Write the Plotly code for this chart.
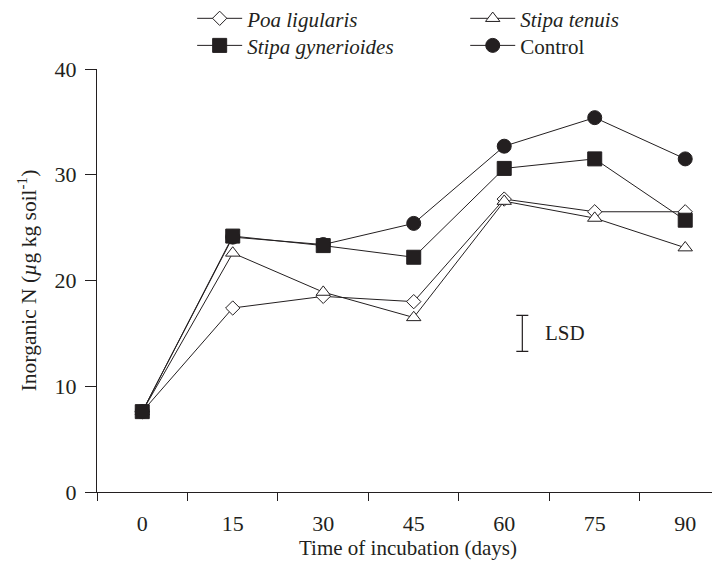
import plotly.graph_objects as go

# ---- data ----
days = [0, 15, 30, 45, 60, 75, 90]
poa_ligularis = [7.6, 17.4, 18.5, 18.0, 27.7, 26.5, 26.5]
stipa_tenuis = [7.6, 22.6, 18.9, 16.5, 27.5, 25.9, 23.1]
stipa_gynerioides = [7.6, 24.2, 23.3, 22.2, 30.6, 31.5, 25.7]
control = [7.6, 24.1, 23.4, 25.4, 32.7, 35.4, 31.5]

x_tick_labels = ["0", "15", "30", "45", "60", "75", "90"]
x_minor_ticks = [-7.5, 7.5, 22.5, 37.5, 52.5, 67.5, 82.5]
y_ticks = [0, 10, 20, 30, 40]

lsd_day = [63]
lsd_centre = [15.0]
lsd_half = [1.7]

INK = "#231f20"
FONT = "Liberation Serif"
SIZES = {"circle": 14, "square": 14, "diamond": 11, "triangle-up": 12.5}

fig = go.Figure()

def add_series(name, y, symbol, fill, legend):
    fig.add_trace(go.Scatter(
        x=days, y=y, name=name, mode="lines+markers",
        line=dict(color=INK, width=1),
        marker=dict(symbol=symbol, size=SIZES[symbol],
                    color=fill, line=dict(color=INK, width=1)),
        legend=legend,
    ))

add_series("Control", control, "circle", INK, "legend4")
add_series("<i>Poa ligularis</i>", poa_ligularis, "diamond", "white", "legend")
add_series("<i>Stipa tenuis</i>", stipa_tenuis, "triangle-up", "white", "legend2")
add_series("<i>Stipa gynerioides</i>", stipa_gynerioides, "square", INK, "legend3")

# LSD bar
fig.add_trace(go.Scatter(
    x=lsd_day, y=lsd_centre, mode="markers", showlegend=False,
    marker=dict(size=1, color="rgba(0,0,0,0)"),
    error_y=dict(type="data", array=lsd_half, symmetric=True,
                 color=INK, thickness=1.2, width=6),
))
fig.add_annotation(x=lsd_day[0] + 3.4, y=lsd_centre[0], text="LSD",
                   showarrow=False, xanchor="left", yanchor="middle",
                   font=dict(family=FONT, size=21, color=INK))

def leg(x, y):
    return dict(
        x=x, y=y, orientation="v", xanchor="left", yanchor="middle",
        font=dict(family=FONT, size=21, color=INK),
        bgcolor="rgba(0,0,0,0)", itemwidth=45,
    )

# page body adds an 8px offset, so the figure is drawn 8px smaller
fig.update_layout(
    width=712, height=555,
    margin=dict(l=89, r=1, t=61, b=71, autoexpand=False),
    plot_bgcolor="white", paper_bgcolor="white",
    font=dict(family=FONT, color=INK, size=21),
    legend=leg(0.153, 1.119),
    legend2=leg(0.592, 1.119),
    legend3=leg(0.153, 1.055),
    legend4=leg(0.592, 1.055),
    xaxis=dict(
        range=[-7.5, 95.6],
        tickmode="array", tickvals=days, ticktext=x_tick_labels,
        ticks="", showgrid=False, zeroline=False,
        showline=True, linecolor=INK, linewidth=1.2,
        tickfont=dict(family=FONT, size=22, color=INK),
        ticklabelstandoff=11,
        minor=dict(tickmode="array", tickvals=x_minor_ticks,
                   ticks="outside", ticklen=8, tickwidth=1.2,
                   tickcolor=INK, showgrid=False),
        title=dict(text="Time of incubation (days)",
                   font=dict(family=FONT, size=21, color=INK), standoff=5),
    ),
    yaxis=dict(
        range=[0, 40],
        tickmode="array", tickvals=y_ticks,
        ticks="outside", ticklen=11, tickwidth=1.2, tickcolor=INK,
        showgrid=False, zeroline=False,
        showline=True, linecolor=INK, linewidth=1.2,
        tickfont=dict(family=FONT, size=22, color=INK),
        ticklabelstandoff=4,
        title=dict(text="Inorganic N (<i>µ</i>g kg soil<sup>-1</sup>)",
                   font=dict(family=FONT, size=21.5, color=INK), standoff=11),
    ),
)

fig.write_html("out.html")
